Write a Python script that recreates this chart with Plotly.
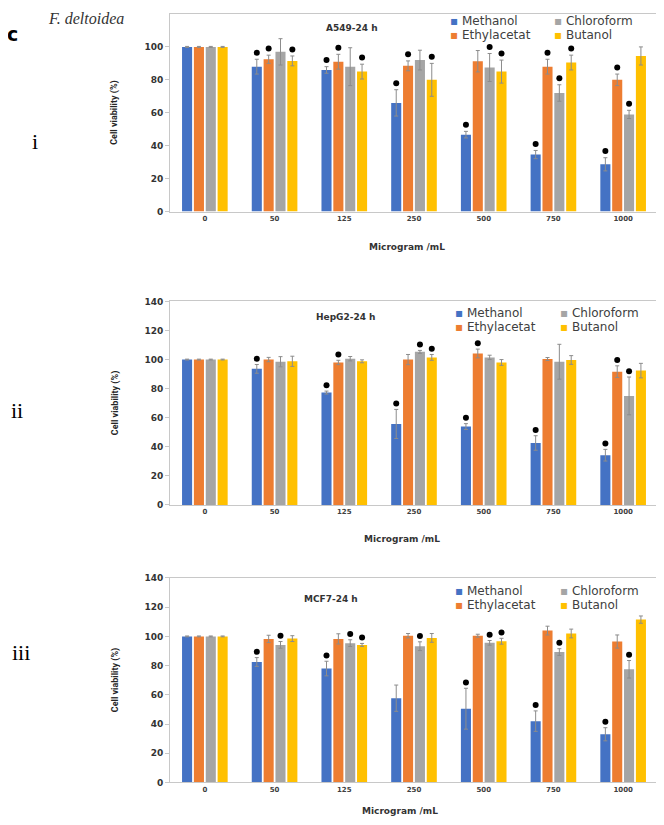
import plotly.graph_objects as go
from plotly.subplots import make_subplots

doses = ["0", "50", "125", "250", "500", "750", "1000"]
solvents = ["Methanol", "Ethylacetat", "Chloroform", "Butanol"]
colors = ["#4472C4", "#ED7D31", "#A5A5A5", "#FFC000"]

# A549-24 h
a549_mean = [
    [100, 88, 86, 66, 46.7, 34.6, 28.7],
    [100, 92.5, 91, 88.5, 91.3, 88, 80],
    [100, 97, 88, 92, 87.5, 72, 59],
    [100, 91.5, 85, 80, 85, 90.5, 94.5],
]
a549_err = [
    [0.3, 4.5, 2, 8, 2, 2.5, 4],
    [0.3, 2.5, 4.5, 3, 6.5, 4.5, 3.5],
    [0.3, 8, 11.5, 6, 8.5, 5, 2.5],
    [0.3, 3, 4.5, 10, 7, 4.5, 5.5],
]
a549_sig = [
    [0, 1, 1, 1, 1, 1, 1],
    [0, 1, 1, 1, 0, 1, 1],
    [0, 0, 0, 0, 1, 1, 1],
    [0, 1, 1, 1, 1, 1, 0],
]

# HepG2-24 h
hepg2_mean = [
    [100, 93.6, 77.3, 55.7, 53.9, 42.6, 34.2],
    [100, 100, 98, 100, 104.2, 100.4, 91.7],
    [100, 98.5, 100.6, 105.3, 101.5, 98.5, 75],
    [100, 98.8, 98.8, 101.5, 98, 99.7, 92.4],
]
hepg2_err = [
    [0.3, 3, 1, 10, 2, 5, 4],
    [0.3, 1.5, 1.5, 3.5, 3, 1, 4],
    [0.3, 3.5, 1.5, 1, 1.5, 12, 13],
    [0.3, 3.5, 1, 2, 2, 3, 5],
]
hepg2_sig = [
    [0, 1, 1, 1, 1, 1, 1],
    [0, 0, 1, 0, 1, 0, 1],
    [0, 0, 0, 1, 0, 0, 1],
    [0, 0, 0, 1, 0, 0, 0],
]

# MCF7-24 h
mcf7_mean = [
    [100, 82.5, 78, 57.7, 50.5, 42, 33],
    [100, 98.3, 98.3, 100.5, 100.5, 104, 96.5],
    [100, 94.2, 95.4, 93.3, 95.6, 89.3, 77.5],
    [100, 98.5, 94.2, 99, 96.7, 102, 111.5],
]
mcf7_err = [
    [0.3, 3, 5, 9, 14, 7, 4.5],
    [0.3, 2.5, 3.5, 1.5, 1, 3, 4.5],
    [0.3, 2.3, 2.3, 3, 1.6, 2.3, 6],
    [0.3, 2, 1, 3, 2, 3, 2.5],
]
mcf7_sig = [
    [0, 1, 1, 0, 1, 1, 1],
    [0, 0, 0, 0, 0, 0, 0],
    [0, 1, 1, 1, 1, 1, 1],
    [0, 0, 1, 0, 1, 0, 0],
]

panels = [
    ("A549-24 h", a549_mean, a549_err, a549_sig, 120, list(range(0, 101, 20))),
    ("HepG2-24 h", hepg2_mean, hepg2_err, hepg2_sig, 140, list(range(0, 141, 20))),
    ("MCF7-24 h", mcf7_mean, mcf7_err, mcf7_sig, 140, list(range(0, 141, 20))),
]

# the page body has an 8px margin, so the figure is made 8px smaller
# and layout positions below are given in window pixels
OFF = 8
W, H = 664 - OFF, 825 - OFF
# plot area boxes (left, right, top, bottom)
boxes = [(170, 658, 9, 209), (170, 658, 300, 506), (170, 658, 580, 787)]
# title / legend anchors per panel
title_pos = [(352, 23), (346, 316), (331, 601)]
xtitle_pos = [(407, 245), (402, 541), (400, 816)]
legend_pos = [(448, 552, 23), (453, 558, 319), (453, 558, 600)]


def px(x):
    return min(1, max(0, (x - OFF) / W))


def py(y):
    return min(1, max(0, 1 - (y - OFF) / H))


fig = make_subplots(rows=3, cols=1)

bold9 = dict(family="DejaVu Sans", size=9, color="#333333", weight="bold")

for row, (title, means, errs, sigs, ymax, ticks) in enumerate(panels, start=1):
    for i, name in enumerate(solvents):
        fig.add_trace(
            go.Bar(
                x=doses,
                y=means[i],
                name=name,
                marker=dict(color=colors[i], line=dict(width=0)),
                error_y=dict(
                    type="data",
                    array=errs[i],
                    color="#8c8c8c",
                    thickness=1,
                    width=2,
                ),
                offsetgroup=str(i),
                showlegend=False,
            ),
            row=row,
            col=1,
        )
    # significance dots above the error bars
    for i, name in enumerate(solvents):
        ys = [
            m + e + 4 if s else None
            for m, e, s in zip(means[i], errs[i], sigs[i])
        ]
        fig.add_trace(
            go.Scatter(
                x=doses,
                y=ys,
                mode="markers",
                marker=dict(symbol="circle", size=6, color="black"),
                offsetgroup=str(i),
                showlegend=False,
                hoverinfo="skip",
            ),
            row=row,
            col=1,
        )

    l, r, t, b = boxes[row - 1]
    xa = "xaxis" if row == 1 else f"xaxis{row}"
    ya = "yaxis" if row == 1 else f"yaxis{row}"
    fig.update_layout(
        {
            xa: dict(
                domain=[px(l), px(r)],
                showline=True,
                linecolor="#c8c8c8",
                linewidth=1,
                mirror=True,
                ticks="",
                tickfont=dict(family="DejaVu Sans", size=7, color="#404040", weight="bold"),
                showgrid=False,
            ),
            ya: dict(
                domain=[py(b), py(t)],
                range=[0, ymax],
                tickvals=ticks,
                showline=True,
                linecolor="#c8c8c8",
                linewidth=1,
                mirror=True,
                ticks="outside",
                ticklen=4,
                tickcolor="#c8c8c8",
                tickfont=dict(family="DejaVu Sans", size=9, color="#333333", weight="bold"),
                showgrid=False,
                zeroline=False,
            ),
        }
    )

    tx, ty = title_pos[row - 1]
    fig.add_annotation(
        x=px(tx), y=py(ty), xref="paper", yref="paper",
        xanchor="center", yanchor="middle",
        text=title, showarrow=False, font=bold9,
    )
    mx, my = xtitle_pos[row - 1]
    fig.add_annotation(
        x=px(mx), y=py(my), xref="paper", yref="paper",
        xanchor="center", yanchor="middle",
        text="Microgram /mL", showarrow=False, font=bold9,
    )
    fig.add_annotation(
        x=px(115), y=py((t + b) / 2), xref="paper", yref="paper",
        xanchor="center", yanchor="middle",
        text="Cell viability (%)", showarrow=False, textangle=-90,
        font=dict(family="Liberation Sans Narrow, Roboto", size=9, color="#262626", weight="bold"),
    )
    # legend: two columns of coloured squares with names
    # (base font sets the line spacing, spans set the glyph size)
    c1, c2, ly = legend_pos[row - 1]
    for cx, pair in [(c1, (0, 1)), (c2, (2, 3))]:
        text = "<br>".join(
            f"<span style='font-size:12px'><span style='color:{colors[k]}'>▪</span> {solvents[k]}</span>"
            for k in pair
        )
        fig.add_annotation(
            x=px(cx), y=py(ly), xref="paper", yref="paper",
            xanchor="left", yanchor="middle", align="left",
            showarrow=False, text=text,
            font=dict(family="DejaVu Sans", size=10.8, color="#404040"),
        )

# panel labels
fig.add_annotation(x=px(86), y=py(14), xref="paper", yref="paper", showarrow=False,
                   xanchor="center", yanchor="middle",
                   text="<i>F. deltoidea</i>",
                   font=dict(family="Liberation Serif", size=16, color="#333333"))
fig.add_annotation(x=px(12), y=py(29), xref="paper", yref="paper", showarrow=False,
                   xanchor="center", yanchor="middle",
                   text="c", font=dict(family="DejaVu Sans", size=19, color="black", weight="bold"))
for lab, lx, ly in [("i", 35, 138), ("ii", 17, 410), ("iii", 21, 655)]:
    fig.add_annotation(x=px(lx), y=py(ly), xref="paper", yref="paper", showarrow=False,
                       xanchor="center", yanchor="middle",
                       text=lab, font=dict(family="Liberation Serif", size=22, color="black"))

fig.update_layout(
    width=W,
    height=H,
    margin=dict(l=0, r=0, t=0, b=0),
    paper_bgcolor="white",
    plot_bgcolor="white",
    barmode="group",
    bargap=0.32,
    bargroupgap=0.15,
    scattermode="group",
    scattergap=0.32,
)

fig.write_html("out.html")
